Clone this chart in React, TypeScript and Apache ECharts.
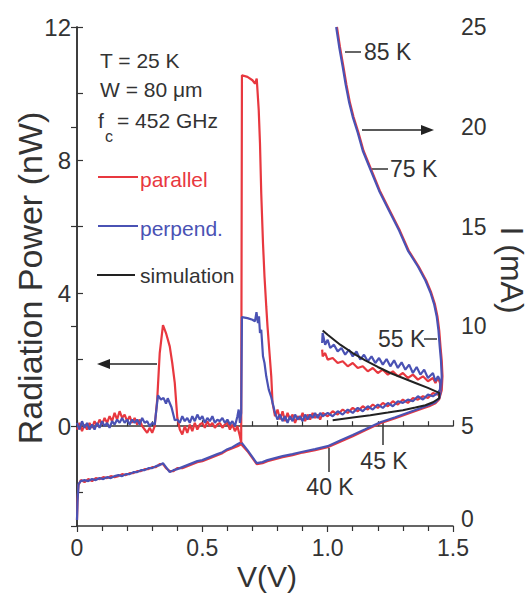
import React, { useEffect, useRef } from "react";
import * as echarts from "echarts";

// ---- data ----
const xTicks = [0, 0.5, 1.0, 1.5];
const leftTickLabels = [0, 4, 8, 12];
const leftTickMarks = [-2, 0, 2, 4, 6, 8, 10, 12];

// Radiation power (nW) vs V, parallel polarisation
const powerParallel: number[][] = [
  [0, -0.1], [0.01, 0.1], [0.02, -0.15], [0.03, 0.05], [0.04, -0.1], [0.05, 0.1], [0.06, -0.05], [0.07, 0.15],
  [0.08, 0.0], [0.09, 0.2], [0.1, 0.05], [0.11, 0.25], [0.12, 0.1], [0.13, 0.3], [0.14, 0.15], [0.15, 0.4],
  [0.16, 0.2], [0.17, 0.45], [0.18, 0.25], [0.19, 0.35], [0.2, 0.15], [0.21, 0.3], [0.22, 0.1], [0.23, 0.25],
  [0.24, 0.05], [0.25, 0.2], [0.26, 0.0], [0.27, -0.1], [0.28, -0.2], [0.29, -0.05], [0.3, -0.2], [0.31, 0.0],
  [0.32, 0.8], [0.33, 2.2], [0.343, 3.04], [0.355, 2.8], [0.37, 2.4], [0.38, 1.9], [0.39, 1.3], [0.4, 0.27],
  [0.41, -0.1], [0.42, -0.25], [0.43, 0.0], [0.44, -0.2], [0.45, 0.05], [0.46, -0.15], [0.47, 0.1], [0.48, -0.1],
  [0.49, 0.05], [0.5, 0.1], [0.51, -0.05], [0.52, 0.15], [0.53, 0.0], [0.54, 0.1], [0.55, -0.05], [0.56, 0.05],
  [0.57, 0.1], [0.58, -0.05], [0.59, 0.05], [0.6, 0.1], [0.61, -0.1], [0.62, 0.05], [0.63, -0.15], [0.64, 0.0],
  [0.65, -0.3], [0.655, -0.5], [0.658, 10.55], [0.68, 10.5], [0.7, 10.4], [0.71, 10.3], [0.717, 10.45],
  [0.725, 9.5], [0.73, 8.5], [0.735, 7.0], [0.742, 5.5], [0.748, 4.5], [0.755, 3.6], [0.76, 3.0], [0.768, 2.2],
  [0.775, 1.5], [0.78, 0.7], [0.79, 0.3], [0.8, 0.5], [0.81, 0.2], [0.82, 0.45], [0.83, 0.15], [0.84, 0.4],
  [0.85, 0.2], [0.86, 0.35], [0.87, 0.1], [0.88, 0.3], [0.89, 0.2], [0.9, 0.4], [0.91, 0.15], [0.92, 0.35],
  [0.93, 0.2], [0.94, 0.4], [0.95, 0.25], [0.96, 0.35], [0.97, 0.2], [0.98, 0.4], [1.0, 0.3], [1.02, 0.45],
  [1.04, 0.35], [1.06, 0.5], [1.08, 0.4], [1.1, 0.55], [1.12, 0.45], [1.14, 0.6], [1.16, 0.5], [1.18, 0.65],
  [1.2, 0.55], [1.22, 0.7], [1.24, 0.6], [1.26, 0.75], [1.28, 0.65], [1.3, 0.8], [1.32, 0.7], [1.34, 0.85],
  [1.36, 0.8], [1.38, 0.9], [1.4, 0.85], [1.42, 1.0], [1.44, 0.95], [1.45, 1.1], [1.448, 1.3], [1.44, 1.45],
  [1.43, 1.3], [1.42, 1.45], [1.4, 1.35], [1.38, 1.5], [1.36, 1.4], [1.34, 1.55], [1.32, 1.45], [1.3, 1.6],
  [1.28, 1.5], [1.26, 1.65], [1.24, 1.55], [1.22, 1.7], [1.2, 1.6], [1.18, 1.75], [1.16, 1.65], [1.14, 1.8],
  [1.12, 1.75], [1.1, 1.9], [1.08, 1.8], [1.06, 1.95], [1.04, 1.9], [1.02, 2.05], [1.0, 2.0], [0.99, 2.2],
  [0.98, 2.1], [0.978, 2.3],
];

// Radiation power (nW) vs V, perpendicular polarisation
const powerPerpend: number[][] = [
  [0, 0.1], [0.01, -0.1], [0.02, 0.15], [0.03, -0.05], [0.04, 0.1], [0.05, -0.1], [0.06, 0.05], [0.07, -0.1],
  [0.08, 0.1], [0.09, -0.05], [0.1, 0.15], [0.11, 0.0], [0.12, 0.1], [0.13, -0.05], [0.14, 0.15], [0.15, 0.05],
  [0.16, 0.2], [0.17, 0.1], [0.18, 0.25], [0.19, 0.1], [0.2, 0.2], [0.21, 0.05], [0.22, 0.2], [0.23, 0.1],
  [0.24, 0.2], [0.25, 0.05], [0.26, 0.25], [0.27, 0.1], [0.28, 0.15], [0.29, 0.0], [0.3, 0.1], [0.31, 0.05],
  [0.323, 0.93], [0.335, 0.8], [0.345, 0.85], [0.355, 0.68], [0.362, 0.84], [0.377, 0.57], [0.39, 0.18],
  [0.4, 0.2], [0.41, 0.1], [0.42, 0.3], [0.43, 0.15], [0.44, 0.25], [0.45, 0.1], [0.46, 0.3], [0.47, 0.15],
  [0.48, 0.35], [0.49, 0.2], [0.5, 0.3], [0.51, 0.1], [0.52, 0.25], [0.53, 0.15], [0.54, 0.3], [0.55, 0.1],
  [0.56, 0.2], [0.57, 0.15], [0.58, 0.25], [0.59, 0.1], [0.6, 0.2], [0.61, 0.05], [0.62, 0.15], [0.63, 0.0],
  [0.64, 0.3], [0.645, 0.5], [0.65, 0.1], [0.655, 0.4], [0.658, 3.28], [0.68, 3.25], [0.7, 3.2], [0.71, 3.15],
  [0.716, 3.43], [0.722, 3.1], [0.726, 3.3], [0.73, 2.8], [0.735, 2.9], [0.742, 2.1], [0.748, 1.9], [0.755, 1.5],
  [0.765, 1.1], [0.775, 0.87], [0.79, 0.4], [0.8, 0.2], [0.81, 0.35], [0.82, 0.15], [0.83, 0.3], [0.84, 0.1],
  [0.85, 0.3], [0.86, 0.15], [0.87, 0.35], [0.88, 0.2], [0.89, 0.3], [0.9, 0.15], [0.91, 0.35], [0.92, 0.2],
  [0.93, 0.35], [0.94, 0.25], [0.95, 0.4], [0.96, 0.25], [0.97, 0.4], [0.98, 0.3], [1.0, 0.4], [1.02, 0.3],
  [1.04, 0.45], [1.06, 0.35], [1.08, 0.5], [1.1, 0.4], [1.12, 0.55], [1.14, 0.45], [1.16, 0.6], [1.18, 0.5],
  [1.2, 0.65], [1.22, 0.55], [1.24, 0.7], [1.26, 0.6], [1.28, 0.75], [1.3, 0.7], [1.32, 0.8], [1.34, 0.75],
  [1.36, 0.9], [1.38, 0.8], [1.4, 0.95], [1.42, 0.9], [1.44, 1.0], [1.448, 1.1], [1.45, 1.35], [1.44, 1.5],
  [1.43, 1.35], [1.42, 1.6], [1.4, 1.45], [1.385, 1.7], [1.37, 1.55], [1.355, 1.78], [1.34, 1.6], [1.325, 1.85],
  [1.31, 1.7], [1.295, 1.92], [1.28, 1.75], [1.265, 1.98], [1.25, 1.8], [1.235, 2.02], [1.22, 1.85],
  [1.205, 2.05], [1.19, 1.9], [1.175, 2.1], [1.16, 1.95], [1.145, 2.15], [1.13, 2.0], [1.115, 2.25],
  [1.1, 2.1], [1.085, 2.3], [1.07, 2.15], [1.055, 2.35], [1.04, 2.25], [1.025, 2.45], [1.01, 2.35],
  [1.0, 2.6], [0.99, 2.45], [0.98, 2.8], [0.978, 2.5],
];

// Simulated radiation power (nW)
const powerSimulation: number[][] = [
  [1.02, 0.18], [1.1, 0.26], [1.17, 0.33], [1.24, 0.41], [1.3, 0.48], [1.35, 0.56], [1.39, 0.63], [1.42, 0.72],
  [1.445, 0.84], [1.445, 1.0], [1.4, 1.15], [1.35, 1.3], [1.3, 1.45], [1.25, 1.6], [1.2, 1.78], [1.15, 1.98],
  [1.1, 2.2], [1.05, 2.45], [1.0, 2.75], [0.98, 2.88],
];

// Current I (mA) vs V
const currentPerpend: number[][] = [
  [0, 0.3], [0.002, 1.2], [0.006, 2.1], [0.015, 2.25], [0.03, 2.3], [0.045, 2.25], [0.06, 2.35], [0.075, 2.3],
  [0.09, 2.4], [0.105, 2.35], [0.12, 2.45], [0.135, 2.4], [0.15, 2.5], [0.165, 2.55], [0.18, 2.5], [0.195, 2.6],
  [0.21, 2.6], [0.225, 2.7], [0.24, 2.7], [0.255, 2.8], [0.27, 2.8], [0.285, 2.9], [0.3, 2.9], [0.315, 3.0],
  [0.33, 3.05], [0.343, 3.15], [0.355, 2.95], [0.37, 2.7], [0.385, 2.8], [0.4, 2.85], [0.42, 2.95], [0.44, 3.05],
  [0.46, 3.15], [0.48, 3.25], [0.5, 3.3], [0.52, 3.4], [0.54, 3.5], [0.56, 3.6], [0.58, 3.7], [0.6, 3.85],
  [0.62, 3.95], [0.64, 4.1], [0.655, 4.2], [0.68, 3.8], [0.7, 3.45], [0.717, 3.15], [0.74, 3.2], [0.76, 3.3],
  [0.79, 3.4], [0.82, 3.5], [0.86, 3.6], [0.9, 3.72], [0.95, 3.85], [1.0, 4.0], [1.05, 4.28], [1.1, 4.56],
  [1.15, 4.85], [1.21, 5.2], [1.27, 5.45], [1.325, 5.7], [1.37, 5.9], [1.405, 6.06], [1.43, 6.2], [1.445, 6.4],
  [1.452, 6.8], [1.455, 7.5], [1.452, 8.3], [1.447, 9.0], [1.442, 9.8], [1.435, 10.5], [1.425, 11.1],
  [1.41, 11.7], [1.39, 12.3], [1.36, 13.0], [1.32, 13.8], [1.285, 14.8], [1.245, 15.8], [1.205, 16.8],
  [1.166, 18.0], [1.14, 18.8], [1.12, 19.7], [1.1, 20.5], [1.086, 21.2], [1.072, 22.1], [1.06, 23.0],
  [1.046, 24.0], [1.034, 25.0],
];

const currentParallel: number[][] = [
  [0, 0.3], [0.002, 1.3], [0.006, 2.05], [0.015, 2.3], [0.03, 2.2], [0.045, 2.35], [0.06, 2.25], [0.075, 2.4],
  [0.09, 2.35], [0.105, 2.45], [0.12, 2.4], [0.135, 2.5], [0.15, 2.45], [0.165, 2.5], [0.18, 2.6], [0.195, 2.55],
  [0.21, 2.65], [0.225, 2.65], [0.24, 2.75], [0.255, 2.75], [0.27, 2.85], [0.285, 2.85], [0.3, 2.95], [0.315, 2.95],
  [0.33, 3.1], [0.343, 3.1], [0.355, 2.9], [0.37, 2.75], [0.385, 2.75], [0.4, 2.9], [0.42, 2.9], [0.44, 3.0],
  [0.46, 3.1], [0.48, 3.2], [0.5, 3.25], [0.52, 3.35], [0.54, 3.45], [0.56, 3.55], [0.58, 3.65], [0.6, 3.8],
  [0.62, 3.9], [0.64, 4.0], [0.655, 4.1], [0.68, 3.75], [0.7, 3.4], [0.717, 3.1], [0.74, 3.15], [0.76, 3.25],
  [0.79, 3.35], [0.82, 3.45], [0.86, 3.55], [0.9, 3.68], [0.95, 3.8], [1.0, 3.95], [1.05, 4.22], [1.1, 4.5],
  [1.15, 4.8], [1.21, 5.15], [1.27, 5.4], [1.325, 5.65], [1.37, 5.85], [1.405, 6.0], [1.43, 6.15], [1.445, 6.35],
  [1.455, 6.8], [1.458, 7.5], [1.455, 8.3], [1.45, 9.0], [1.445, 9.8], [1.438, 10.5], [1.428, 11.1],
  [1.413, 11.7], [1.393, 12.3], [1.363, 13.0], [1.323, 13.8], [1.288, 14.8], [1.248, 15.8], [1.208, 16.8],
  [1.169, 18.0], [1.143, 18.8], [1.123, 19.7], [1.103, 20.5], [1.089, 21.2], [1.075, 22.1], [1.063, 23.0],
  [1.049, 24.0], [1.037, 25.0],
];

const RED = "#e8383f";
const BLUE = "#4a52b4";
const BLACK = "#222222";
const TEXT = "#333333";
const FONT = "'Liberation Sans', Arial, Helvetica, sans-serif";

export default function App() {
  const ref = useRef<HTMLDivElement>(null);

  useEffect(() => {
    if (!ref.current) return;
    const chart = echarts.init(ref.current, null, { renderer: "svg" });

    const axisLine = { show: true, lineStyle: { color: "#333", width: 1.5 } };
    const tickStyle = { color: "#333", width: 1.2 };

    const txt = (x: number, y: number, text: string, size = 21, color = TEXT, align = "left", extra: any = {}) => ({
      type: "text",
      x,
      y,
      ...extra,
      style: {
        text,
        fill: color,
        font: `${size}px ${FONT}`,
        textAlign: align,
        textVerticalAlign: "middle",
      },
    });
    const seg = (x1: number, y1: number, x2: number, y2: number, color = BLACK, w = 1.5) => ({
      type: "line",
      shape: { x1, y1, x2, y2 },
      style: { stroke: color, lineWidth: w },
    });

    const option: any = {
      animation: false,
      backgroundColor: "#ffffff",
      textStyle: { fontFamily: FONT },
      grid: { left: 77, right: 77, top: 27, bottom: 70, containLabel: false },
      xAxis: [
        {
          type: "value",
          position: "bottom",
          min: 0,
          max: 1.5,
          interval: 0.5,
          axisLine,
          axisTick: { show: true, inside: true, length: 6, lineStyle: tickStyle },
          minorTick: { show: true, splitNumber: 5, length: 5, lineStyle: tickStyle },
          axisLabel: {
            color: TEXT,
            fontSize: 23,
            margin: 10,
            fontFamily: FONT,
            formatter: (v: number) => (v === 0 ? "0" : xTicks.includes(v) ? v.toFixed(1) : ""),
          },
          splitLine: { show: false },
        },
        {
          type: "value",
          position: "top",
          min: 0,
          max: 1.5,
          interval: 0.5,
          axisLine,
          axisTick: { show: true, inside: true, length: 6, lineStyle: tickStyle },
          minorTick: { show: true, splitNumber: 5, length: 5, lineStyle: tickStyle },
          axisLabel: { show: false },
          splitLine: { show: false },
        },
      ],
      yAxis: [
        {
          type: "value",
          position: "left",
          min: -3,
          max: 12,
          interval: 1,
          axisLine,
          axisTick: { show: true, inside: true, length: 6, lineStyle: tickStyle, customValues: leftTickMarks },
          axisLabel: {
            color: TEXT,
            fontSize: 24,
            margin: 6,
            fontFamily: FONT,
            customValues: leftTickLabels,
          },
          splitLine: { show: false },
        },
        {
          type: "value",
          position: "right",
          min: 0,
          max: 25,
          interval: 5,
          axisLine,
          axisTick: { show: true, inside: true, length: 6, lineStyle: tickStyle },
          axisLabel: {
            color: TEXT,
            fontSize: 23,
            margin: 8,
            fontFamily: FONT,
            formatter: (v: number) => (v === 0 ? "{z|0}" : String(v)),
            rich: { z: { fontSize: 23, lineHeight: 23, padding: [0, 0, 14, 0], color: TEXT, fontFamily: FONT } },
          },
          splitLine: { show: false },
        },
      ],
      series: [
        {
          type: "line",
          name: "I parallel",
          xAxisIndex: 0,
          yAxisIndex: 1,
          data: currentParallel,
          showSymbol: false,
          lineStyle: { color: RED, width: 2.2 },
          itemStyle: { color: RED },
        },
        {
          type: "line",
          name: "I perpend",
          xAxisIndex: 0,
          yAxisIndex: 1,
          data: currentPerpend,
          showSymbol: false,
          lineStyle: { color: BLUE, width: 2.2 },
          itemStyle: { color: BLUE },
        },
        {
          type: "line",
          name: "parallel",
          xAxisIndex: 0,
          yAxisIndex: 0,
          data: powerParallel,
          showSymbol: false,
          lineStyle: { color: RED, width: 2.2 },
          itemStyle: { color: RED },
        },
        {
          type: "line",
          name: "perpend.",
          xAxisIndex: 0,
          yAxisIndex: 0,
          data: powerPerpend,
          showSymbol: false,
          lineStyle: { color: BLUE, width: 2.2 },
          itemStyle: { color: BLUE },
        },
        {
          type: "line",
          name: "simulation",
          xAxisIndex: 0,
          yAxisIndex: 0,
          data: powerSimulation,
          showSymbol: false,
          lineStyle: { color: BLACK, width: 2 },
          itemStyle: { color: BLACK },
        },
      ],
      graphic: [
        // axis titles
        txt(30, 278, "Radiation Power (nW)", 34, TEXT, "center", { rotation: Math.PI / 2 }),
        txt(512, 270, "I (mA)", 32, TEXT, "center", { rotation: -Math.PI / 2 }),
        txt(267, 576, "V(V)", 30, TEXT, "center"),
        // parameters
        txt(100, 60, "T = 25 K"),
        txt(100, 89, "W = 80 \u03bcm"),
        txt(98, 120, "f"),
        txt(105, 136, "c", 16),
        txt(117, 120, "= 452 GHz"),
        // legend
        seg(98, 177, 138, 177, RED, 2),
        txt(140, 179, "parallel", 21, RED),
        seg(98, 226, 138, 226, BLUE, 2),
        txt(140, 228, "perpend.", 21, BLUE),
        seg(97, 275, 135, 275, BLACK, 2),
        txt(140, 275, "simulation", 21, TEXT),
        // arrows
        seg(157, 364, 106, 364, BLACK, 1.5),
        { type: "polygon", shape: { points: [[97, 364], [110, 359], [110, 369]] }, style: { fill: BLACK } },
        seg(362, 130, 424, 130, BLACK, 1.5),
        { type: "polygon", shape: { points: [[434, 130], [421, 125], [421, 135]] }, style: { fill: BLACK } },
        // temperature markers
        seg(345, 52, 361, 52, TEXT, 1.5),
        txt(364, 52, "85 K", 23),
        seg(372, 169, 388, 169, TEXT, 1.5),
        txt(390, 169, "75 K", 23),
        txt(378, 339, "55 K", 23),
        seg(424, 339, 437, 339, TEXT, 1.5),
        seg(329, 448, 329, 472, TEXT, 1.5),
        txt(330, 487, "40 K", 23, TEXT, "center"),
        seg(383, 423, 383, 445, TEXT, 1.5),
        txt(384, 461, "45 K", 23, TEXT, "center"),
      ],
    };

    chart.setOption(option);
    return () => chart.dispose();
  }, []);

  return <div ref={ref} style={{ width: 530, height: 596, position: "absolute", left: 0, top: 0 }} />;
}
